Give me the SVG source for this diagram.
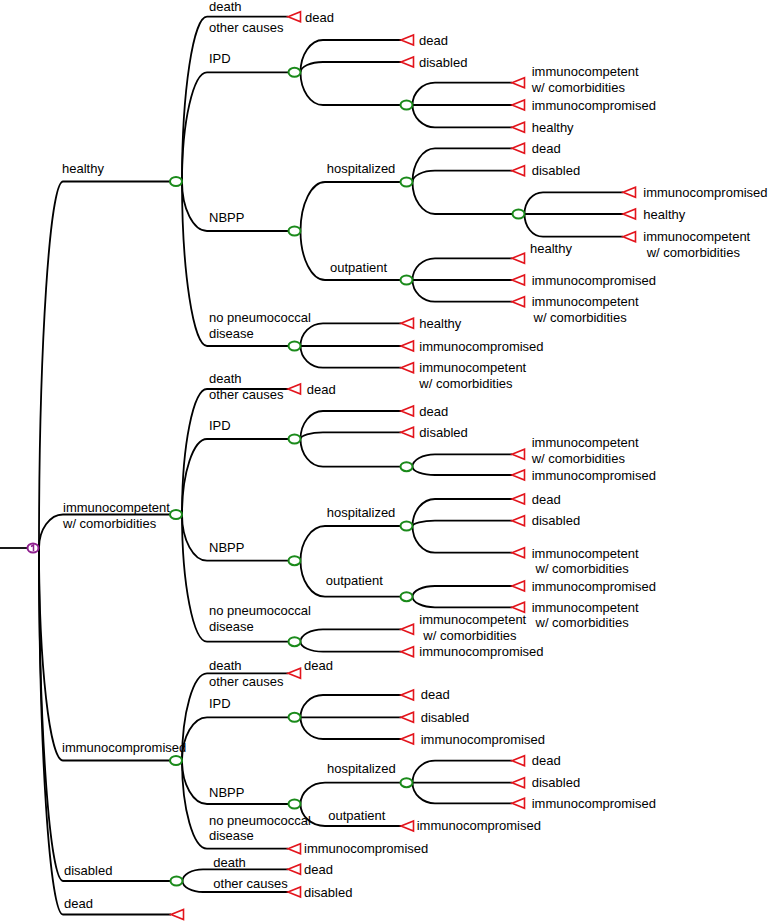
<svg xmlns="http://www.w3.org/2000/svg" xmlns:xlink="http://www.w3.org/1999/xlink" width="770" height="921" viewBox="0 0 770 921">
<style>
text{font-family:"Liberation Sans",Arial,sans-serif;font-size:13px;fill:#000}
.c{fill:none;stroke:#000;stroke-width:1.8}
.n{fill:#fff;stroke:#1a8a1a;stroke-width:2}
.t{fill:#fff;stroke:#e3141c;stroke-width:1.6}
.r{fill:#fff;stroke:#8e1f8e;stroke-width:2}
</style>
<defs>
<ellipse id="ch" cx="0" cy="0" rx="6" ry="4.5" class="n"/>
<polygon id="tm" points="0,0 12.5,-5 12.5,5" class="t"/>
</defs>
<rect width="770" height="921" fill="#fff"/>
<g id="connectors">
<path class="c" d="M0 548 L27 548"/>
<path class="c" d="M39 548 C39 346.4 49.8 181.5 63 181.5 L170 181.5"/>
<path class="c" d="M39 548 C39 529.6 49.8 514.5 63 514.5 L170 514.5"/>
<path class="c" d="M39 548 C39 664.9 49.8 760.5 63 760.5 L170 760.5"/>
<path class="c" d="M39 548 C39 731.2 49.8 881 63 881 L170.5 881"/>
<path class="c" d="M39 548 C39 749.6 49.8 914.5 63 914.5 L171 914.5"/>
<path class="c" d="M182 181.5 C182 90.9 193.3 16.7 207 16.7 L288 16.7"/>
<path class="c" d="M182 181.5 C182 121.4 193.3 72.3 207 72.3 L288 72.3"/>
<path class="c" d="M182 181.5 C182 208.7 193.3 231 207 231 L288 231"/>
<path class="c" d="M182 181.5 C182 272 193.3 346 207 346 L288 346"/>
<path class="c" d="M300.5 72.3 C300.5 54.5 310.6 40 323 40 L401 40"/>
<path class="c" d="M300.5 72.3 C300.5 66.6 310.6 62 323 62 L401 62"/>
<path class="c" d="M300.5 72.3 C300.5 90.3 310.6 105 323 105 L400 105"/>
<path class="c" d="M412.5 105 C412.5 92.7 422.6 82.7 435 82.7 L512 82.7"/>
<path class="c" d="M412.5 105 L512 105"/>
<path class="c" d="M412.5 105 C412.5 117.3 422.6 127.3 435 127.3 L512 127.3"/>
<path class="c" d="M300.5 231 C300.5 204 311.5 182 325 182 L400 182"/>
<path class="c" d="M300.5 231 C300.5 258 311.5 280 325 280 L400 280"/>
<path class="c" d="M412.5 182 C412.5 163.5 422.6 148.3 435 148.3 L512 148.3"/>
<path class="c" d="M412.5 182 C412.5 175.8 422.6 170.7 435 170.7 L512 170.7"/>
<path class="c" d="M412.5 182 C412.5 199.6 422.6 214 435 214 L512 214"/>
<path class="c" d="M524.5 214 C524.5 202.1 532.3 192.3 543 192.3 L623 192.3"/>
<path class="c" d="M524.5 214 L623 214"/>
<path class="c" d="M524.5 214 C524.5 226.5 532.3 236.7 543 236.7 L623 236.7"/>
<path class="c" d="M412.5 280 C412.5 268.1 422.6 258.3 435 258.3 L512 258.3"/>
<path class="c" d="M412.5 280 L512 280"/>
<path class="c" d="M412.5 280 C412.5 291.9 422.6 301.7 435 301.7 L512 301.7"/>
<path class="c" d="M300.5 346 C300.5 333.5 310.6 323.3 323 323.3 L401 323.3"/>
<path class="c" d="M300.5 346 L401 346"/>
<path class="c" d="M300.5 346 C300.5 357.9 310.6 367.7 323 367.7 L401 367.7"/>
<path class="c" d="M182 514.5 C182 445.5 193.3 389 207 389 L288 389"/>
<path class="c" d="M182 514.5 C182 473 193.3 439 207 439 L288 439"/>
<path class="c" d="M182 514.5 C182 539.9 193.3 560.7 207 560.7 L288 560.7"/>
<path class="c" d="M182 514.5 C182 584.5 193.3 641.7 207 641.7 L288 641.7"/>
<path class="c" d="M300.5 439 C300.5 423.6 310.6 411 323 411 L401 411"/>
<path class="c" d="M300.5 439 C300.5 435.3 310.6 432.3 323 432.3 L401 432.3"/>
<path class="c" d="M300.5 439 C300.5 454.2 310.6 466.7 323 466.7 L400 466.7"/>
<path class="c" d="M412.5 466.7 C412.5 459.9 422.6 454.3 435 454.3 L512 454.3"/>
<path class="c" d="M412.5 466.7 C412.5 471.3 422.6 475 435 475 L512 475"/>
<path class="c" d="M300.5 560.7 C300.5 541.6 311.5 526 325 526 L400 526"/>
<path class="c" d="M300.5 560.7 C300.5 580.5 311.5 596.7 325 596.7 L400 596.7"/>
<path class="c" d="M412.5 526 C412.5 511.2 422.6 499 435 499 L512 499"/>
<path class="c" d="M412.5 526 C412.5 523.1 422.6 520.7 435 520.7 L512 520.7"/>
<path class="c" d="M412.5 526 C412.5 540.7 422.6 552.7 435 552.7 L512 552.7"/>
<path class="c" d="M412.5 596.7 C412.5 590.8 422.6 586 435 586 L512 586"/>
<path class="c" d="M412.5 596.7 C412.5 602.5 422.6 607.3 435 607.3 L512 607.3"/>
<path class="c" d="M300.5 641.7 C300.5 634.9 310.6 629.3 323 629.3 L401 629.3"/>
<path class="c" d="M300.5 641.7 C300.5 647.2 310.6 651.7 323 651.7 L401 651.7"/>
<path class="c" d="M182 760.5 C182 712.5 193.3 673.3 207 673.3 L288 673.3"/>
<path class="c" d="M182 760.5 C182 736.7 193.3 717.3 207 717.3 L288 717.3"/>
<path class="c" d="M182 760.5 C182 784.4 193.3 804 207 804 L288 804"/>
<path class="c" d="M182 760.5 C182 809 193.3 848.7 207 848.7 L288 848.7"/>
<path class="c" d="M300.5 717.3 C300.5 705 310.6 695 323 695 L401 695"/>
<path class="c" d="M300.5 717.3 L401 717.3"/>
<path class="c" d="M300.5 717.3 C300.5 729.2 310.6 739 323 739 L401 739"/>
<path class="c" d="M300.5 804 C300.5 792.3 311.5 782.7 325 782.7 L400 782.7"/>
<path class="c" d="M300.5 804 C300.5 816.1 311.5 826 325 826 L401 826"/>
<path class="c" d="M412.5 782.7 C412.5 770.6 422.6 760.7 435 760.7 L512 760.7"/>
<path class="c" d="M412.5 782.7 L512 782.7"/>
<path class="c" d="M412.5 782.7 C412.5 794 422.6 803.3 435 803.3 L512 803.3"/>
<path class="c" d="M182.5 881 C182.5 874.6 191.7 869.3 203 869.3 L288 869.3"/>
<path class="c" d="M182.5 881 C182.5 887 191.7 892 203 892 L288 892"/>
</g>
<g id="root">
<ellipse cx="33" cy="548" rx="5.5" ry="4.5" class="r"/>
<path d="M31 546.5 L33.5 545 L33.5 551" fill="none" stroke="#8e1f8e" stroke-width="1.5"/>
</g>
<g id="n-healthy"><use xlink:href="#ch" x="176" y="181.5"/><text x="62" y="172.5">healthy</text></g>
<g id="n-h-death"><use xlink:href="#tm" x="288" y="16.7"/><text x="209" y="11">death</text><text x="209" y="31.5">other causes</text><text x="305" y="21.5">dead</text></g>
<g id="n-h-ipd"><use xlink:href="#ch" x="294.5" y="72.3"/><text x="209" y="63.3">IPD</text></g>
<g id="n-h-ipd-dead"><use xlink:href="#tm" x="401" y="40"/><text x="419" y="44.5">dead</text></g>
<g id="n-h-ipd-dis"><use xlink:href="#tm" x="401" y="62"/><text x="419" y="66.5">disabled</text></g>
<g id="n-h-ipd-c"><use xlink:href="#ch" x="406.5" y="105"/></g>
<g id="n-h-ipd-c1"><use xlink:href="#tm" x="512" y="82.7"/><text x="531.7" y="75.5">immunocompetent</text><text x="531.7" y="91.5">w/ comorbidities</text></g>
<g id="n-h-ipd-c2"><use xlink:href="#tm" x="512" y="105"/><text x="531.7" y="109.5">immunocompromised</text></g>
<g id="n-h-ipd-c3"><use xlink:href="#tm" x="512" y="127.3"/><text x="531.7" y="131.8">healthy</text></g>
<g id="n-h-nbpp"><use xlink:href="#ch" x="294.5" y="231"/><text x="209" y="222">NBPP</text></g>
<g id="n-h-hosp"><use xlink:href="#ch" x="406.5" y="182"/><text x="326.7" y="172.5">hospitalized</text></g>
<g id="n-h-hosp-dead"><use xlink:href="#tm" x="512" y="148.3"/><text x="531.7" y="152.8">dead</text></g>
<g id="n-h-hosp-dis"><use xlink:href="#tm" x="512" y="170.7"/><text x="531.7" y="175.2">disabled</text></g>
<g id="n-h-hosp-c"><use xlink:href="#ch" x="518.5" y="214"/></g>
<g id="n-h-hosp-c1"><use xlink:href="#tm" x="623" y="192.3"/><text x="643.3" y="196.8">immunocompromised</text></g>
<g id="n-h-hosp-c2"><use xlink:href="#tm" x="623" y="214"/><text x="643.3" y="218.5">healthy</text></g>
<g id="n-h-hosp-c3"><use xlink:href="#tm" x="623" y="236.7"/><text x="643.3" y="241">immunocompetent</text><text x="646.7" y="256.5">w/ comorbidities</text></g>
<g id="n-h-outp"><use xlink:href="#ch" x="406.5" y="280"/><text x="330" y="272">outpatient</text></g>
<g id="n-h-outp-1"><use xlink:href="#tm" x="512" y="258.3"/><text x="530" y="253">healthy</text></g>
<g id="n-h-outp-2"><use xlink:href="#tm" x="512" y="280"/><text x="531.7" y="284.5">immunocompromised</text></g>
<g id="n-h-outp-3"><use xlink:href="#tm" x="512" y="301.7"/><text x="531.7" y="306">immunocompetent</text><text x="533.5" y="322">w/ comorbidities</text></g>
<g id="n-h-nopn"><use xlink:href="#ch" x="294.5" y="346"/><text x="209" y="322">no pneumococcal</text><text x="209" y="338">disease</text></g>
<g id="n-h-nopn-1"><use xlink:href="#tm" x="401" y="323.3"/><text x="419.3" y="327.8">healthy</text></g>
<g id="n-h-nopn-2"><use xlink:href="#tm" x="401" y="346"/><text x="419.3" y="350.5">immunocompromised</text></g>
<g id="n-h-nopn-3"><use xlink:href="#tm" x="401" y="367.7"/><text x="419.3" y="372">immunocompetent</text><text x="419.3" y="388">w/ comorbidities</text></g>
<g id="n-ic"><use xlink:href="#ch" x="176" y="514.5"/><text x="63" y="511.5">immunocompetent</text><text x="63" y="527.5">w/ comorbidities</text></g>
<g id="n-ic-death"><use xlink:href="#tm" x="288" y="389"/><text x="209" y="382.7">death</text><text x="209" y="398.5">other causes</text><text x="306.7" y="393.5">dead</text></g>
<g id="n-ic-ipd"><use xlink:href="#ch" x="294.5" y="439"/><text x="209" y="430">IPD</text></g>
<g id="n-ic-ipd-dead"><use xlink:href="#tm" x="401" y="411"/><text x="419.3" y="415.5">dead</text></g>
<g id="n-ic-ipd-dis"><use xlink:href="#tm" x="401" y="432.3"/><text x="419.3" y="436.8">disabled</text></g>
<g id="n-ic-ipd-c"><use xlink:href="#ch" x="406.5" y="466.7"/></g>
<g id="n-ic-ipd-c1"><use xlink:href="#tm" x="512" y="454.3"/><text x="531.7" y="446.5">immunocompetent</text><text x="531.7" y="462.5">w/ comorbidities</text></g>
<g id="n-ic-ipd-c2"><use xlink:href="#tm" x="512" y="475"/><text x="531.7" y="479.5">immunocompromised</text></g>
<g id="n-ic-nbpp"><use xlink:href="#ch" x="294.5" y="560.7"/><text x="209" y="551.7">NBPP</text></g>
<g id="n-ic-hosp"><use xlink:href="#ch" x="406.5" y="526"/><text x="326.7" y="517">hospitalized</text></g>
<g id="n-ic-hosp-dead"><use xlink:href="#tm" x="512" y="499"/><text x="531.7" y="503.5">dead</text></g>
<g id="n-ic-hosp-dis"><use xlink:href="#tm" x="512" y="520.7"/><text x="531.7" y="525.2">disabled</text></g>
<g id="n-ic-hosp-3"><use xlink:href="#tm" x="512" y="552.7"/><text x="531.7" y="557.5">immunocompetent</text><text x="535.5" y="573">w/ comorbidities</text></g>
<g id="n-ic-outp"><use xlink:href="#ch" x="406.5" y="596.7"/><text x="325.7" y="585">outpatient</text></g>
<g id="n-ic-outp-1"><use xlink:href="#tm" x="512" y="586"/><text x="531.7" y="590.5">immunocompromised</text></g>
<g id="n-ic-outp-2"><use xlink:href="#tm" x="512" y="607.3"/><text x="531.7" y="611.5">immunocompetent</text><text x="535.5" y="627">w/ comorbidities</text></g>
<g id="n-ic-nopn"><use xlink:href="#ch" x="294.5" y="641.7"/><text x="209" y="614.5">no pneumococcal</text><text x="209" y="631">disease</text></g>
<g id="n-ic-nopn-1"><use xlink:href="#tm" x="401" y="629.3"/><text x="419.3" y="624.3">immunocompetent</text><text x="423.3" y="639.5">w/ comorbidities</text></g>
<g id="n-ic-nopn-2"><use xlink:href="#tm" x="401" y="651.7"/><text x="419.3" y="656.2">immunocompromised</text></g>
<g id="n-im"><use xlink:href="#ch" x="176" y="760.5"/><text x="62" y="751.5">immunocompromised</text></g>
<g id="n-im-death"><use xlink:href="#tm" x="288" y="673.3"/><text x="209" y="670">death</text><text x="209" y="686">other causes</text><text x="304" y="670">dead</text></g>
<g id="n-im-ipd"><use xlink:href="#ch" x="294.5" y="717.3"/><text x="209" y="708.3">IPD</text></g>
<g id="n-im-ipd-1"><use xlink:href="#tm" x="401" y="695"/><text x="420.7" y="699">dead</text></g>
<g id="n-im-ipd-2"><use xlink:href="#tm" x="401" y="717.3"/><text x="420.7" y="721.8">disabled</text></g>
<g id="n-im-ipd-3"><use xlink:href="#tm" x="401" y="739"/><text x="420.7" y="743.5">immunocompromised</text></g>
<g id="n-im-nbpp"><use xlink:href="#ch" x="294.5" y="804"/><text x="209" y="796.7">NBPP</text></g>
<g id="n-im-hosp"><use xlink:href="#ch" x="406.5" y="782.7"/><text x="327" y="772.7">hospitalized</text></g>
<g id="n-im-hosp-1"><use xlink:href="#tm" x="512" y="760.7"/><text x="531.7" y="765">dead</text></g>
<g id="n-im-hosp-2"><use xlink:href="#tm" x="512" y="782.7"/><text x="531.7" y="787">disabled</text></g>
<g id="n-im-hosp-3"><use xlink:href="#tm" x="512" y="803.3"/><text x="531.7" y="807.8">immunocompromised</text></g>
<g id="n-im-outp"><use xlink:href="#tm" x="401" y="826"/><text x="328.3" y="820">outpatient</text><text x="416.7" y="830.3">immunocompromised</text></g>
<g id="n-im-nopn"><use xlink:href="#tm" x="288" y="848.7"/><text x="209" y="825">no pneumococcal</text><text x="209" y="840">disease</text><text x="304" y="853">immunocompromised</text></g>
<g id="n-dis"><use xlink:href="#ch" x="176.5" y="881"/><text x="64" y="875">disabled</text></g>
<g id="n-dis-1"><use xlink:href="#tm" x="288" y="869.3"/><text x="213.3" y="867.3">death</text><text x="304" y="873.5">dead</text></g>
<g id="n-dis-2"><use xlink:href="#tm" x="288" y="892"/><text x="213.3" y="888.3">other causes</text><text x="304" y="896.5">disabled</text></g>
<g id="n-dead"><use xlink:href="#tm" x="171" y="914.5"/><text x="64" y="908">dead</text></g>
</svg>
